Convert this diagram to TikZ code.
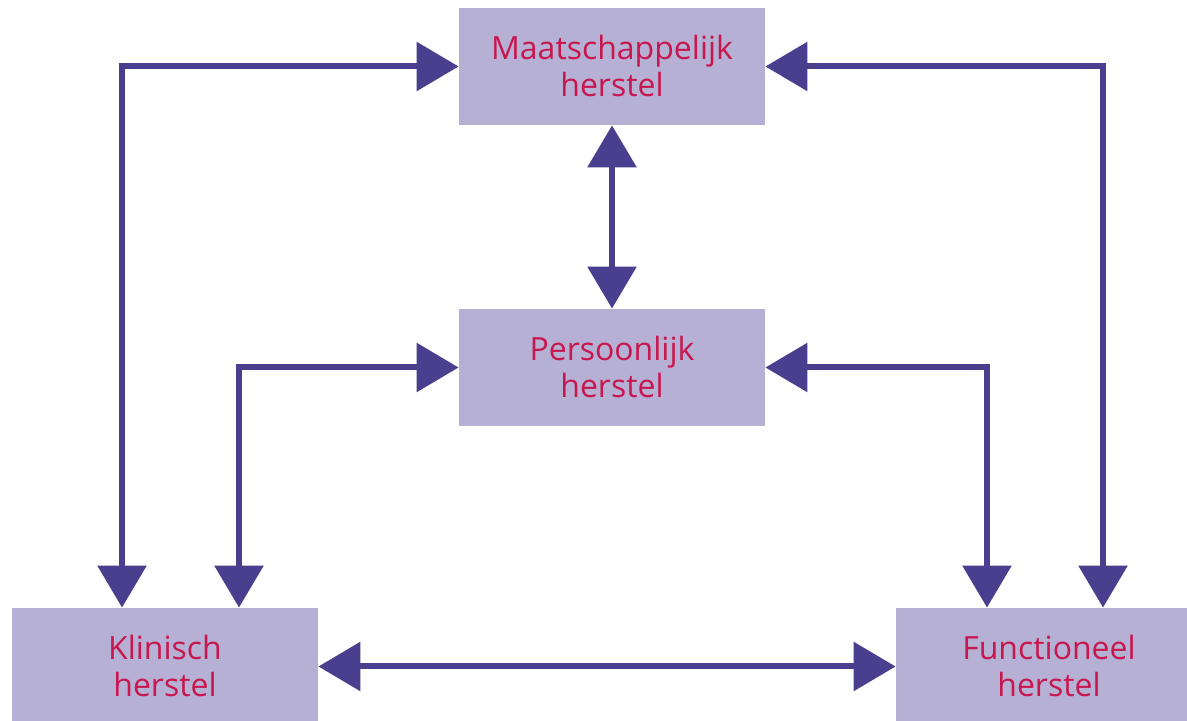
\documentclass[tikz,border=0pt]{standalone}
\usepackage{fontspec}
\setmainfont{Open Sans}
\usetikzlibrary{arrows.meta}
\definecolor{boxfill}{HTML}{B5B0D4}
\definecolor{boxtext}{HTML}{C8174F}
\definecolor{arrowc}{HTML}{4A3F8E}
\begin{document}
\begin{tikzpicture}[x=0.5pt, y=0.5pt,
        box/.style={fill=boxfill, text=boxtext, minimum width=153pt, minimum height=58.5pt, align=center, font=\fontsize{16}{18.5}\selectfont},
        link/.style={line width=3pt, draw=arrowc, {Triangle[length=21pt,width=24pt]}-{Triangle[length=21pt,width=24pt]}}]
        \useasboundingbox (0,0) rectangle (1187,721);

        \node[box] (maat) at (612,654.5) {Maatschappelijk\\herstel};
        \node[box] (pers) at ([yshift=-150.5pt]maat.center) {Persoonlijk\\herstel};
        \node[box] (klin) at ([xshift=-223.5pt, yshift=-300pt]maat.center) {Klinisch\\herstel};
        \node[box] (func) at ([xshift=218.5pt, yshift=-300pt]maat.center) {Functioneel\\herstel};

        \draw [link] (maat) -- (pers);
        \draw [link] (klin) -- (func);

        \draw [link] (maat.west) -| ([xshift=-21.5pt]klin.north);
        \draw [link] (pers.west) -| ([xshift=37pt]klin.north);
        \draw [link] (maat.east) -| ([xshift=27pt]func.north);
        \draw [link] (pers.east) -| ([xshift=-31pt]func.north);

    \end{tikzpicture}
\end{document}
